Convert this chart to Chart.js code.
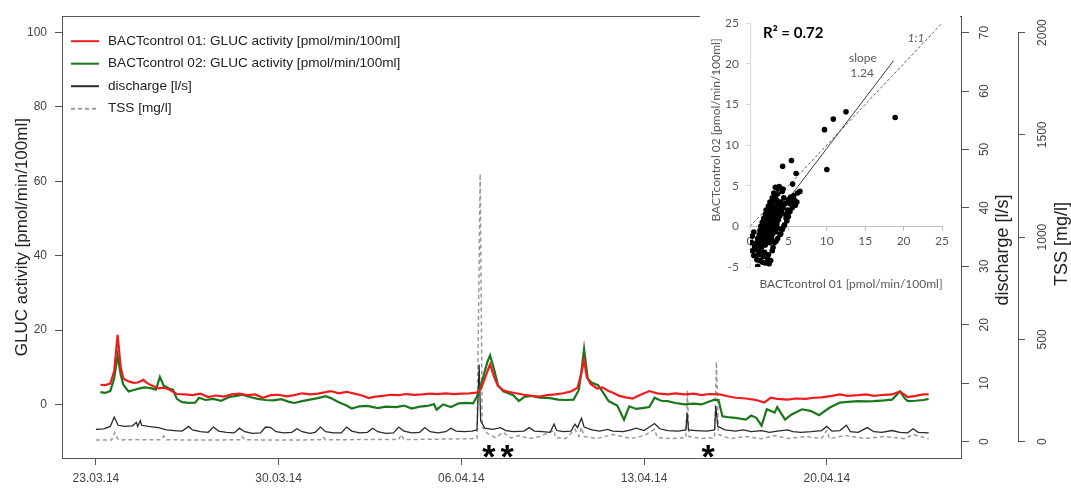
<!DOCTYPE html>
<html>
<head>
<meta charset="utf-8">
<script src="https://cdn.jsdelivr.net/npm/chart.js@4.4.1/dist/chart.umd.min.js"></script>
<style>
  html, body { margin: 0; padding: 0; background: #fff; }
  #wrap { position: relative; width: 1071px; height: 488px; }
  #main { position: absolute; left: 0; top: 0; }
  #inset { position: absolute; left: 700px; top: 9px; background: #fff; }
</style>
</head>
<body>
<div id="wrap">
  <canvas id="main" width="1071" height="488"></canvas>
  <canvas id="inset" width="260" height="283"></canvas>
</div>
<script>
// x axis: days since 23.03.14
var tickDays = [0, 7, 14, 21, 28];
var tickDates = ['23.03.14', '30.03.14', '06.04.14', '13.04.14', '20.04.14'];
var glucTicks = [0, 20, 40, 60, 80, 100];
var dischargeTicks = [0, 10, 20, 30, 40, 50, 60, 70];
var tssTicks = [0, 500, 1000, 1500, 2000];

var seriesLabels = [
  'BACTcontrol 01: GLUC activity [pmol/min/100ml]',
  'BACTcontrol 02: GLUC activity [pmol/min/100ml]',
  'discharge [l/s]',
  'TSS [mg/l]'
];

var bact01Days = [
  0.17, 0.35, 0.55, 0.7, 0.83, 0.95, 1.05, 1.25, 1.45, 1.6,
  1.82, 1.95, 2.1, 2.4, 2.6, 2.8, 3.0, 3.1, 3.4, 3.7,
  4.0, 4.3, 4.6, 4.9, 5.2, 5.5, 5.8, 6.1, 6.4, 6.7,
  7.0, 7.3, 7.6, 7.9, 8.2, 8.5, 8.8, 9.0, 9.3, 9.6,
  9.9, 10.2, 10.45, 10.7, 11.0, 11.3, 11.6, 11.9, 12.2, 12.5,
  12.8, 13.1, 13.4, 13.7, 14.0, 14.3, 14.6, 14.75, 14.95, 15.1,
  15.25, 15.4, 15.6, 15.8, 16.1, 16.4, 16.7, 17.0, 17.3, 17.6,
  17.9, 18.2, 18.45, 18.6, 18.7, 18.8, 18.95, 19.2, 19.4, 19.64,
  19.85, 20.05, 20.3, 20.56, 20.8, 21.0, 21.2, 21.5, 21.9, 22.2,
  22.55, 22.9, 23.2, 23.5, 23.9, 24.2, 24.5, 24.9, 25.2, 25.4,
  25.6, 25.85, 26.1, 26.5, 26.8, 27.2, 27.5, 27.8, 28.2, 28.5,
  28.8, 29.2, 29.5, 29.8, 30.2, 30.5, 30.8, 31.1, 31.4, 31.7,
  31.9
];
var bact01 = [
  5.3, 5.2, 5.6, 9.0, 18.7, 10.0, 7.0, 6.2, 5.8, 5.9,
  6.6, 5.8, 5.2, 4.3, 4.5, 4.0, 3.2, 2.8, 2.7, 2.5,
  2.9, 2.0, 2.4, 2.1, 2.7, 2.9, 2.5, 2.7, 1.8, 2.5,
  2.6, 2.2, 2.5, 3.0, 2.7, 2.9, 3.3, 3.6, 3.0, 3.4,
  2.9, 2.4, 1.7, 2.1, 2.3, 2.6, 2.5, 2.8, 2.6, 2.7,
  2.9, 2.8, 3.0, 2.8, 2.9, 3.0, 3.2, 4.2, 8.0, 10.8,
  7.5, 5.0, 3.8, 3.4, 3.0, 2.6, 2.3, 2.1, 2.5, 2.7,
  3.0, 3.5, 4.5, 8.5, 12.0, 7.5, 5.5, 4.3, 4.6, 3.6,
  3.0, 2.3, 1.9, 1.6, 2.4, 3.0, 3.6, 3.0, 2.7, 3.0,
  2.7, 2.9, 2.5, 2.8, 2.7, 2.2, 1.8, 1.6, 1.3, 1.0,
  0.5, 1.8, 1.5, 1.3, 1.6, 1.5, 1.8, 1.9, 2.3, 2.7,
  2.3, 2.5, 2.7, 2.3, 2.6, 2.7, 3.5, 2.0, 2.3, 2.7,
  2.7
];

var bact02Days = [
  0.17, 0.35, 0.55, 0.7, 0.83, 0.95, 1.05, 1.25, 1.45, 1.6,
  1.85, 2.1, 2.3, 2.45, 2.6, 2.8, 2.95, 3.1, 3.3, 3.55,
  3.8, 3.95, 4.2, 4.5, 4.8, 5.1, 5.4, 5.6, 5.9, 6.2,
  6.5, 6.8, 7.1, 7.4, 7.6, 7.9, 8.2, 8.5, 8.8, 9.0,
  9.3, 9.6, 9.8, 10.1, 10.4, 10.8, 11.1, 11.5, 11.8, 12.1,
  12.4, 12.7, 12.95, 13.05, 13.3, 13.6, 13.9, 14.2, 14.45, 14.6,
  14.8, 15.0, 15.1, 15.25, 15.4, 15.6, 15.8, 16.0, 16.2, 16.4,
  16.7, 17.0, 17.4, 17.7, 18.0, 18.3, 18.5, 18.6, 18.7, 18.84,
  19.0, 19.24, 19.45, 19.64, 19.97, 20.23, 20.43, 20.7, 21.0, 21.2,
  21.4, 21.65, 21.9, 22.2, 22.55, 22.9, 23.2, 23.5, 23.7, 23.85,
  24.0, 24.3, 24.5, 24.9, 25.1, 25.3, 25.5, 25.7, 26.0, 26.1,
  26.4, 26.65, 27.05, 27.4, 27.7, 28.1, 28.5, 28.8, 29.2, 29.5,
  29.8, 30.2, 30.5, 30.8, 31.0, 31.1, 31.4, 31.7, 31.9
];
var bact02 = [
  3.3, 3.1, 3.6, 7.0, 13.2, 8.0, 5.3, 3.5, 3.9, 4.2,
  4.6, 4.4, 4.0, 7.4, 5.0, 4.3, 4.0, 1.5, 0.6, 0.4,
  0.5, 1.8, 1.2, 1.5, 1.0, 2.0, 2.3, 2.6, 2.0, 1.5,
  1.2, 1.1, 1.4, 0.7, 0.4, 0.9, 1.3, 1.7, 2.2, 1.7,
  0.6, -0.3, -1.1, -0.5, -0.4, -1.0, -0.6, -0.7, -0.3, -1.1,
  -0.6, -0.4, 0.1, -1.4, 0.0, -0.7, 0.3, 0.4, 0.3, 2.1,
  6.5, 11.5, 13.2, 9.5, 5.2, 3.5, 3.0, 2.4, 0.9, 2.0,
  2.3, 1.8, 1.7, 1.3, 1.2, 1.3, 3.9, 9.0, 15.0, 7.0,
  5.8, 5.2, 3.0, 0.9, -0.3, -4.1, -0.5, -1.2, -0.9, -0.7,
  1.8, 1.0, 0.9, 0.4, 0.0, 0.2, 0.0, 0.8, 1.3, 1.2,
  -3.2, -3.5, -3.6, -4.1, -3.0, -3.6, -5.7, -1.3, -2.2, -0.7,
  -4.1, -2.7, -1.3, -1.8, -2.9, -0.9, 0.5, 0.7, 0.9, 0.8,
  0.9, 1.1, 1.3, 3.5, 1.5, 0.9, 1.0, 1.2, 1.5
];

var dischargeDays = [
  0.0, 0.3, 0.55, 0.7, 0.85, 1.1, 1.4, 1.55, 1.6, 1.7,
  1.75, 2.0, 2.4, 2.7, 3.0, 3.3, 3.55, 3.7, 4.0, 4.3,
  4.5, 4.7, 5.0, 5.3, 5.5, 5.7, 6.0, 6.3, 6.5, 6.7,
  6.9, 7.2, 7.5, 7.7, 7.9, 8.2, 8.4, 8.6, 8.8, 9.1,
  9.4, 9.6, 9.8, 10.1, 10.4, 10.6, 10.8, 11.1, 11.4, 11.6,
  11.8, 12.1, 12.4, 12.6, 12.8, 13.1, 13.4, 13.6, 13.8, 14.1,
  14.4, 14.6, 14.68, 14.74, 14.9, 15.2, 15.5, 15.7, 16.0, 16.4,
  16.6, 16.8, 17.1, 17.4, 17.55, 17.65, 17.9, 18.2, 18.35, 18.45,
  18.6, 18.7, 19.0, 19.3, 19.6, 19.8, 20.2, 20.5, 20.7, 21.0,
  21.4, 21.6, 21.9, 22.3, 22.6, 22.65, 22.7, 23.0, 23.4, 23.7,
  23.75, 23.82, 24.1, 24.5, 24.8, 25.1, 25.5, 25.8, 26.1, 26.5,
  26.7, 27.0, 27.4, 27.8, 28.0, 28.2, 28.5, 28.75, 28.9, 29.2,
  29.55, 29.8, 30.1, 30.5, 30.8, 31.1, 31.3, 31.5, 31.9
];
var discharge = [
  2.1, 2.2, 2.6, 4.2, 2.8, 2.6, 2.7, 3.3, 2.6, 3.6,
  2.8, 2.6, 2.4, 2.0, 1.9, 1.8, 2.6, 2.0, 1.7, 1.6,
  2.5, 1.8, 1.6, 1.5, 2.3, 1.7, 1.4, 1.5, 2.5, 2.4,
  1.7, 1.5, 1.6, 2.2, 1.7, 1.4, 1.6, 2.5, 1.7, 1.5,
  1.5, 2.5, 1.8, 1.5, 1.6, 2.3, 1.7, 1.4, 1.5, 2.5,
  1.8, 1.5, 1.6, 2.4, 1.7, 1.5, 1.7, 2.3, 1.8, 1.7,
  1.8, 2.0, 13.2, 3.5, 2.3, 2.1, 2.4, 1.9, 1.7, 1.8,
  2.4, 1.8, 1.7, 1.6, 3.0, 1.9, 1.7, 1.8, 3.0, 2.4,
  4.0, 2.5, 2.0, 1.8, 2.1, 1.8, 1.7, 2.0, 2.3, 1.9,
  3.1, 2.2, 1.9, 1.8, 2.0, 4.9, 2.0, 1.9, 1.8, 2.0,
  6.1, 2.6, 2.0, 1.8, 2.0, 1.7, 1.9, 1.6, 1.8, 2.0,
  1.7, 1.6, 1.7, 1.9, 2.6, 1.8, 1.9, 2.8, 1.7, 1.6,
  2.4, 1.7, 1.6, 1.9, 1.6, 1.5, 2.2, 1.6, 1.5
];

var tssDays = [
  0.0, 0.6, 0.72, 0.8, 0.9, 1.5, 2.5, 2.6, 2.7, 4.0,
  5.5, 5.6, 5.7, 7.0, 8.6, 8.7, 8.8, 10.0, 11.6, 11.7,
  11.8, 13.0, 14.6, 14.72, 14.8, 15.0, 15.3, 15.6, 15.9, 16.2,
  16.6, 17.0, 17.55, 17.6, 18.0, 18.35, 18.5, 18.6, 18.7, 19.2,
  19.8, 20.5, 21.0, 21.4, 21.5, 22.0, 22.6, 22.66, 22.72, 23.2,
  23.7, 23.77, 23.85, 24.3, 24.9, 25.5, 26.0, 26.5, 27.2, 27.8,
  28.0, 28.1, 28.7, 29.5, 30.2, 31.0, 31.3, 31.9
];
var tss = [
  8, 8, 45, 20, 8, 10, 9, 28, 9, 8,
  9, 25, 9, 8, 9, 22, 9, 10, 10, 35,
  10, 12, 15, 1310, 70, 40, 20, 45, 18, 30,
  15, 25, 55, 20, 15, 60, 25, 70, 25, 15,
  35, 15, 30, 60, 20, 15, 20, 250, 25, 15,
  20, 390, 35, 15, 25, 14, 30, 15, 25, 15,
  55, 15, 30, 15, 25, 14, 35, 14
];

// asterisk marks under the x axis
var starDays = [15.05, 15.75, 23.45];

// inset: BACTcontrol 01 vs 02
var scatter01 = [
  1.0, 2.0, 1.6, 2.5, 0.9, 1.3, 2.3, 2.7, 0.5, 1.1,
  1.7, 2.4, 0.3, 0.8, 1.3, 1.9, 0.6, 1.1, 1.5, 2.0,
  0.9, 1.3, 1.7, 2.2, 2.6, 1.0, 1.4, 1.8, 2.3, 2.8,
  1.2, 1.6, 2.0, 2.4, 2.9, 3.3, 1.3, 1.7, 2.1, 2.5,
  3.0, 3.4, 1.4, 1.8, 2.2, 2.6, 3.0, 3.5, 1.6, 2.0,
  2.4, 2.8, 3.2, 3.7, 1.8, 2.2, 2.6, 3.0, 3.4, 3.9,
  2.0, 2.4, 2.8, 3.2, 3.6, 4.1, 2.1, 2.5, 2.9, 3.3,
  3.8, 4.3, 2.4, 2.8, 3.2, 3.6, 4.0, 4.6, 2.6, 3.0,
  3.5, 4.0, 5.0, 5.5, 5.8, 6.1, 2.9, 3.3, 4.4, 5.3,
  5.7, 3.1, 3.6, 4.2, 6.2, 6.5, 3.3, 3.8, 4.3, 3.6,
  3.2, 3.6, 3.9, 4.2, 4.5, 4.8, 5.0, 5.2, 5.5, 5.9,
  4.0, 4.4, 4.7, 4.9, 3.0, 2.9, 3.4, 5.2, 4.6, 3.8,
  0.3, 0.5, 0.2, 5.55, 6.0, 4.25, 5.4, 10.0, 9.7, 10.85,
  12.5, 18.9
];
var scatter02 = [
  -4.9, -4.5, -4.4, -4.6, -4.1, -4.2, -4.0, -4.2, -3.6, -3.5,
  -3.7, -3.5, -3.0, -2.9, -3.1, -3.2, -2.5, -2.4, -2.6, -2.3,
  -2.0, -1.9, -2.1, -1.8, -2.0, -1.5, -1.4, -1.6, -1.3, -1.5,
  -1.0, -0.9, -1.1, -0.8, -1.0, -0.7, -0.5, -0.4, -0.6, -0.3,
  -0.5, -0.2, 0.0, 0.1, -0.1, 0.2, 0.0, 0.3, 0.5, 0.6,
  0.4, 0.7, 0.5, 0.8, 1.0, 1.1, 0.9, 1.2, 1.0, 1.3,
  1.5, 1.6, 1.4, 1.7, 1.5, 1.8, 2.0, 2.1, 1.9, 2.2,
  2.0, 2.3, 2.5, 2.6, 2.4, 2.7, 2.5, 2.8, 3.0, 3.1,
  3.2, 3.0, 3.3, 2.9, 3.2, 3.0, 3.5, 3.6, 3.5, 3.6,
  3.8, 4.1, 4.0, 4.3, 4.1, 4.3, 4.8, 4.9, 4.6, 4.7,
  -2.0, -1.5, -1.0, -0.4, 0.2, 0.7, 1.2, 1.8, 2.3, 2.6,
  -0.9, 0.0, 1.0, 2.0, -2.6, -3.0, -1.8, 2.8, 1.5, -0.3,
  -1.2, -0.7, -2.0, 5.2, 6.5, 7.4, 8.1, 7.0, 11.9, 13.2,
  14.1, 13.4
];
var oneToOneX = [0, 25];
var oneToOneY = [0, 25];
var slopeLineX = [1.0, 18.7];
var slopeLineY = [-1.6, 20.4];

function pairs(xs, ys) {
  return xs.map(function (x, i) { return { x: x, y: ys[i] }; });
}
function fixTicks(values) {
  return function (axis) { axis.ticks = values.map(function (v) { return { value: v }; }); };
}
function plainLabel(v) { return String(v); }

var mainFont = 'Liberation Sans';
var axisColor = '#444';

var framePlugin = {
  id: 'frame',
  afterDatasetsDraw: function (chart) {
    var ctx = chart.ctx, a = chart.chartArea, s = chart.scales;
    ctx.save();
    // box
    ctx.strokeStyle = '#555';
    ctx.lineWidth = 1;
    ctx.strokeRect(Math.round(a.left) + 0.5, Math.round(a.top) + 0.5,
      Math.round(a.right - a.left), Math.round(a.bottom - a.top));
    // TSS axis line (0 .. 2000 only)
    var t = s.yTSS;
    var tx = Math.round(t.left) + 0.5;
    ctx.beginPath();
    ctx.moveTo(tx, t.getPixelForValue(0));
    ctx.lineTo(tx, t.getPixelForValue(2000));
    ctx.stroke();
    // right axis titles, reading bottom to top
    ctx.fillStyle = '#222';
    ctx.font = '18px ' + mainFont;
    ctx.textAlign = 'center';
    ctx.textBaseline = 'middle';
    ctx.save();
    ctx.translate(s.yQ.left + 42, 250);
    ctx.rotate(-Math.PI / 2);
    ctx.fillText('discharge [l/s]', 0, 0);
    ctx.restore();
    ctx.save();
    ctx.translate(t.left + 44, 244);
    ctx.rotate(-Math.PI / 2);
    ctx.fillText('TSS [mg/l]', 0, 0);
    ctx.restore();
    // asterisks
    ctx.fillStyle = '#000';
    ctx.font = 'bold 34px ' + mainFont;
    starDays.forEach(function (d) {
      ctx.fillText('*', s.x.getPixelForValue(d), s.y.getPixelForValue(-14.6));
    });
    // legend
    ctx.font = '13.6px ' + mainFont;
    ctx.textAlign = 'left';
    chart.data.datasets.forEach(function (ds, i) {
      var ly = a.top + 25 + i * 22.5;
      ctx.strokeStyle = ds.borderColor;
      ctx.lineWidth = 2;
      ctx.setLineDash(ds.borderDash || []);
      ctx.beginPath();
      ctx.moveTo(a.left + 9, ly);
      ctx.lineTo(a.left + 37, ly);
      ctx.stroke();
      ctx.setLineDash([]);
      ctx.fillStyle = '#222';
      ctx.fillText(ds.label, a.left + 46, ly);
    });
    ctx.restore();
  }
};

new Chart(document.getElementById('main'), {
  type: 'line',
  data: {
    datasets: [
      { label: seriesLabels[0], data: pairs(bact01Days, bact01), yAxisID: 'y',
        borderColor: 'rgb(238,28,28)', borderWidth: 2.2 },
      { label: seriesLabels[1], data: pairs(bact02Days, bact02), yAxisID: 'y',
        borderColor: 'rgb(28,118,28)', borderWidth: 2.2 },
      { label: seriesLabels[2], data: pairs(dischargeDays, discharge), yAxisID: 'yQ',
        borderColor: '#2a2a2a', borderWidth: 1.3 },
      { label: seriesLabels[3], data: pairs(tssDays, tss), yAxisID: 'yTSS',
        borderColor: '#9a9a9a', borderWidth: 1.5, borderDash: [4, 3] }
    ]
  },
  options: {
    responsive: false,
    animation: false,
    devicePixelRatio: 1,
    events: [],
    elements: { point: { radius: 0 }, line: { tension: 0 } },
    layout: { padding: { top: 8, left: 0, right: 0, bottom: 0 } },
    plugins: { legend: { display: false }, tooltip: { enabled: false } },
    scales: {
      x: {
        type: 'linear', min: -1.3, max: 33.14,
        afterBuildTicks: fixTicks(tickDays),
        afterFit: function (s) { s.height = 30; },
        ticks: {
          color: axisColor, font: { family: mainFont, size: 12 }, padding: 6,
          maxRotation: 0,
          callback: function (v) { return tickDates[tickDays.indexOf(v)]; }
        },
        grid: { drawOnChartArea: false, tickLength: 7, color: '#555' },
        border: { display: false }
      },
      y: {
        position: 'left', min: -14.4, max: 104.4,
        afterBuildTicks: fixTicks(glucTicks),
        afterFit: function (s) { s.width = 62; },
        ticks: { color: axisColor, font: { family: mainFont, size: 12 }, padding: 8,
          callback: plainLabel },
        grid: { drawOnChartArea: false, tickLength: 7, color: '#555' },
        border: { display: false },
        title: {
          display: true, text: 'GLUC activity [pmol/min/100ml]', color: '#222',
          font: { family: mainFont, size: 17 }, padding: { top: 12, bottom: 0 }
        }
      },
      yQ: {
        position: 'right', min: -2.8, max: 72.8,
        afterBuildTicks: fixTicks(dischargeTicks),
        afterFit: function (s) { s.width = 57; },
        ticks: {
          color: axisColor, font: { family: mainFont, size: 12 }, padding: 9,
          minRotation: 90, maxRotation: 90, crossAlign: 'center', callback: plainLabel
        },
        grid: { drawOnChartArea: false, tickLength: 8, color: '#555' },
        border: { display: false }
      },
      yTSS: {
        position: 'right', min: -80, max: 2080,
        afterBuildTicks: fixTicks(tssTicks),
        afterFit: function (s) { s.width = 53; },
        ticks: {
          color: axisColor, font: { family: mainFont, size: 12 }, padding: 4,
          minRotation: 90, maxRotation: 90, crossAlign: 'center', callback: plainLabel
        },
        grid: { drawOnChartArea: false, tickLength: 7, color: '#555' },
        border: { display: false }
      }
    }
  },
  plugins: [framePlugin]
});

// ---- inset scatter ----
var insetFont = 'Lato';
var insetGrey = '#595959';

var insetText = {
  id: 'insetText',
  afterDatasetsDraw: function (chart) {
    var ctx = chart.ctx, s = chart.scales, a = chart.chartArea;
    ctx.save();
    ctx.textBaseline = 'middle';
    ctx.fillStyle = '#000';
    ctx.font = 'bold 15px ' + insetFont;
    ctx.textAlign = 'left';
    ctx.fillText('R² = 0.72', s.x.getPixelForValue(1.7), s.y.getPixelForValue(23.8));
    ctx.fillStyle = insetGrey;
    ctx.font = '12px ' + insetFont;
    ctx.textAlign = 'center';
    ctx.fillText('slope', s.x.getPixelForValue(14.7), s.y.getPixelForValue(20.7));
    ctx.fillText('1.24', s.x.getPixelForValue(14.6), s.y.getPixelForValue(18.9));
    ctx.font = 'italic 12px ' + insetFont;
    ctx.fillText('1:1', s.x.getPixelForValue(21.6), s.y.getPixelForValue(23.2));
    ctx.font = '12px ' + insetFont;
    ctx.fillText('BACTcontrol 01 [pmol/min/100ml]', (a.left + a.right) / 2 + 5, chart.height - 8);
    ctx.save();
    ctx.translate(16, 121);
    ctx.rotate(-Math.PI / 2);
    ctx.fillText('BACTcontrol 02 [pmol/min/100ml]', 0, 0);
    ctx.restore();
    ctx.restore();
  }
};

new Chart(document.getElementById('inset'), {
  type: 'scatter',
  data: {
    datasets: [
      { data: pairs(scatter01, scatter02), backgroundColor: '#000', borderColor: '#000',
        pointRadius: 2.8, borderWidth: 0 },
      { type: 'line', data: pairs(slopeLineX, slopeLineY), borderColor: '#3a3a3a',
        borderWidth: 1, pointRadius: 0 },
      { type: 'line', data: pairs(oneToOneX, oneToOneY), borderColor: '#606060',
        borderWidth: 1, borderDash: [3, 2], pointRadius: 0 }
    ]
  },
  options: {
    responsive: false,
    animation: false,
    devicePixelRatio: 1,
    events: [],
    layout: { padding: { top: 13.7, left: 0, right: 18, bottom: 25 } },
    plugins: { legend: { display: false }, tooltip: { enabled: false } },
    scales: {
      x: {
        type: 'linear', min: 0, max: 25, position: { y: 0 },
        afterBuildTicks: fixTicks([0, 5, 10, 15, 20, 25]),
        ticks: { color: insetGrey, font: { family: insetFont, size: 12 }, padding: 4 },
        grid: { drawOnChartArea: false, tickLength: 4, color: '#bfbfbf' },
        border: { color: '#bfbfbf' }
      },
      y: {
        type: 'linear', min: -5, max: 25,
        afterBuildTicks: fixTicks([-5, 0, 5, 10, 15, 20, 25]),
        afterFit: function (s) { s.width = 50; },
        ticks: { color: insetGrey, font: { family: insetFont, size: 12 }, padding: 7 },
        grid: { drawOnChartArea: false, tickLength: 4, color: '#d9d9d9' },
        border: { color: '#d9d9d9' }
      }
    }
  },
  plugins: [insetText]
});
</script>
</body>
</html>
